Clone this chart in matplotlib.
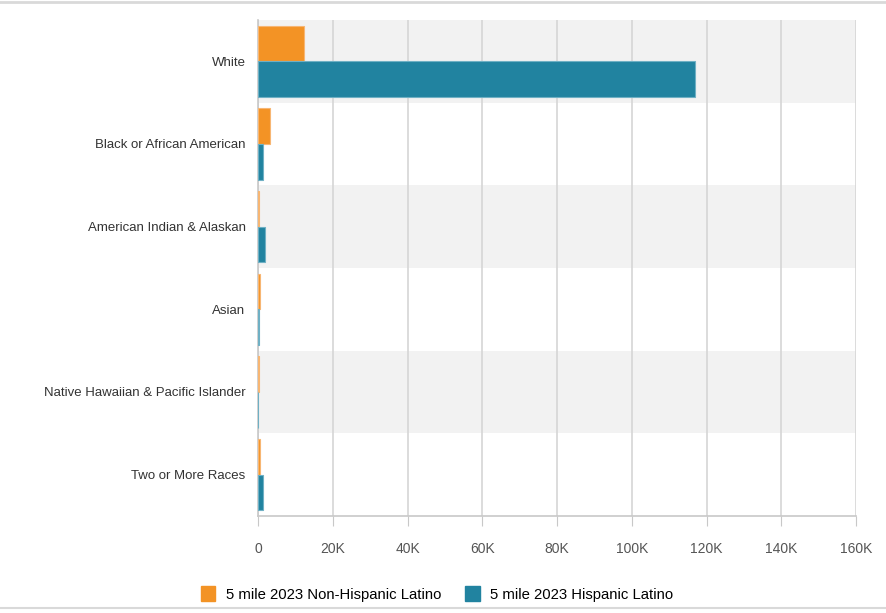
import matplotlib.pyplot as plt
import numpy as np
from matplotlib.patches import Rectangle
from matplotlib.lines import Line2D

plt.rcParams['font.family'] = ['Liberation Sans', 'DejaVu Sans']

categories = ["White", "Black or African American", "American Indian & Alaskan",
              "Asian", "Native Hawaiian & Pacific Islander", "Two or More Races"]
non_hispanic = [12300, 3300, 300, 500, 200, 600]
hispanic = [116900, 1400, 1900, 300, 100, 1400]
series_names = ["5 mile 2023 Non-Hispanic Latino", "5 mile 2023 Hispanic Latino"]
xticks = [0, 20000, 40000, 60000, 80000, 100000, 120000, 140000, 160000]
xtick_labels = ["0", "20K", "40K", "60K", "80K", "100K", "120K", "140K", "160K"]

orange = "#F39325"
teal = "#2183A0"

fig = plt.figure(figsize=(8.86, 6.13), dpi=100)
ax = fig.add_axes([258 / 886, 1 - 516 / 613, 598 / 886, 496 / 613])

n = len(categories)
y = np.arange(n)
h = 0.43

# alternating band backgrounds
for i in range(n):
    if i % 2 == 0:
        ax.axhspan(i - 0.5, i + 0.5, color="#f2f2f2", zorder=0, lw=0)

for x in xticks:
    ax.axvline(x, color="#d6d6d6", lw=1.2, zorder=1)

ax.barh(y - h / 2, non_hispanic, height=h, color=orange, edgecolor="#f7b673",
        lw=0.8, zorder=3)
ax.barh(y + h / 2, hispanic, height=h, color=teal, edgecolor="#6fb0c4",
        lw=0.8, zorder=3)

ax.set_xlim(0, 160000)
ax.set_ylim(n - 0.5, -0.5)
ax.set_yticks(y)
ax.set_yticklabels(categories, fontsize=9.5, color="#333333")
ax.set_xticks(xticks)
ax.set_xticklabels(xtick_labels, fontsize=10, color="#555555")
ax.tick_params(axis="y", length=0, pad=9)
ax.tick_params(axis="x", length=7, color="#c8c8c8", pad=12)

for side in ["top", "right"]:
    ax.spines[side].set_visible(False)
ax.spines["left"].set_color("#c8c8c8")
ax.spines["bottom"].set_color("#c8c8c8")
ax.spines["left"].set_linewidth(1.2)
ax.spines["bottom"].set_linewidth(1.2)

handles = [Rectangle((0, 0), 1, 1, color=orange), Rectangle((0, 0), 1, 1, color=teal)]
fig.legend(handles, series_names, loc="center", bbox_to_anchor=(437 / 886, 1 - 594 / 613),
           ncol=2, frameon=False, fontsize=10.7, handlelength=1.0, handleheight=1.2,
           columnspacing=1.6, handletextpad=0.7)

# thin frame lines at top and bottom of the figure
fig.add_artist(Line2D([0, 1], [1 - 1.5 / 613, 1 - 1.5 / 613], color="#d9d9d9", lw=2))
fig.add_artist(Line2D([0, 1], [1 - 608 / 613, 1 - 608 / 613], color="#d9d9d9", lw=1.5))

fig.savefig("out.png", dpi=100)
